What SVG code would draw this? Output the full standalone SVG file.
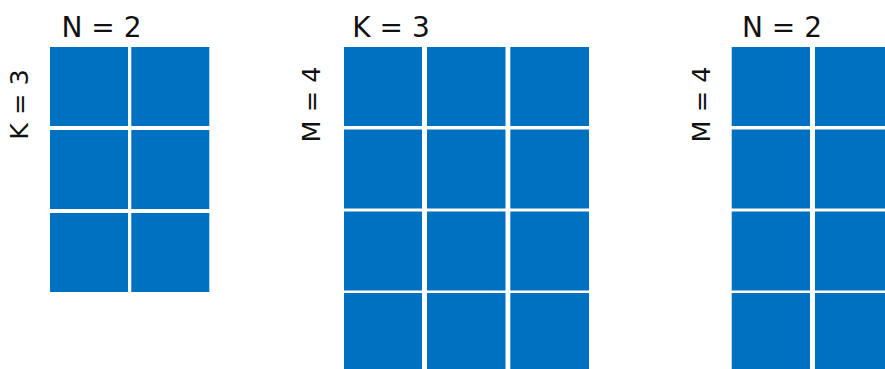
<svg xmlns="http://www.w3.org/2000/svg" width="885" height="369" viewBox="0 0 885 369">
<style>
.c{fill:#0070c0}
.t{font-family:"DejaVu Sans",sans-serif;font-size:28px;fill:#111;text-anchor:middle}
.v{font-family:"DejaVu Sans",sans-serif;font-size:25.5px;fill:#111;text-anchor:middle}
</style>
<rect width="885" height="369" fill="#fff"/>
<g id="matrixB">
<text class="t" x="101.5" y="37">N = 2</text>
<text class="v" transform="translate(27.5,104.5) rotate(-90)">K = 3</text>
<rect class="c" x="50" y="47" width="78" height="79"/>
<rect class="c" x="131.3" y="47" width="78" height="79"/>
<rect class="c" x="50" y="130" width="78" height="79"/>
<rect class="c" x="131.3" y="130" width="78" height="79"/>
<rect class="c" x="50" y="213" width="78" height="79"/>
<rect class="c" x="131.3" y="213" width="78" height="79"/>
</g>
<g id="matrixA">
<text class="t" x="391" y="37">K = 3</text>
<text class="v" transform="translate(319.5,104.5) rotate(-90)">M = 4</text>
<rect class="c" x="344" y="47" width="78" height="79"/>
<rect class="c" x="427" y="47" width="78.5" height="79"/>
<rect class="c" x="510.3" y="47" width="78.7" height="79"/>
<rect class="c" x="344" y="129.5" width="78" height="79"/>
<rect class="c" x="427" y="129.5" width="78.5" height="79"/>
<rect class="c" x="510.3" y="129.5" width="78.7" height="79"/>
<rect class="c" x="344" y="211.5" width="78" height="79"/>
<rect class="c" x="427" y="211.5" width="78.5" height="79"/>
<rect class="c" x="510.3" y="211.5" width="78.7" height="79"/>
<rect class="c" x="344" y="293" width="78" height="79"/>
<rect class="c" x="427" y="293" width="78.5" height="79"/>
<rect class="c" x="510.3" y="293" width="78.7" height="79"/>
</g>
<g id="matrixC">
<text class="t" x="782" y="37">N = 2</text>
<text class="v" transform="translate(710,104.5) rotate(-90)">M = 4</text>
<rect class="c" x="731.7" y="47" width="78.3" height="79"/>
<rect class="c" x="815" y="47" width="78" height="79"/>
<rect class="c" x="731.7" y="129.5" width="78.3" height="79"/>
<rect class="c" x="815" y="129.5" width="78" height="79"/>
<rect class="c" x="731.7" y="211.5" width="78.3" height="79"/>
<rect class="c" x="815" y="211.5" width="78" height="79"/>
<rect class="c" x="731.7" y="293" width="78.3" height="79"/>
<rect class="c" x="815" y="293" width="78" height="79"/>
</g>
<g id="connectors"/>
</svg>
